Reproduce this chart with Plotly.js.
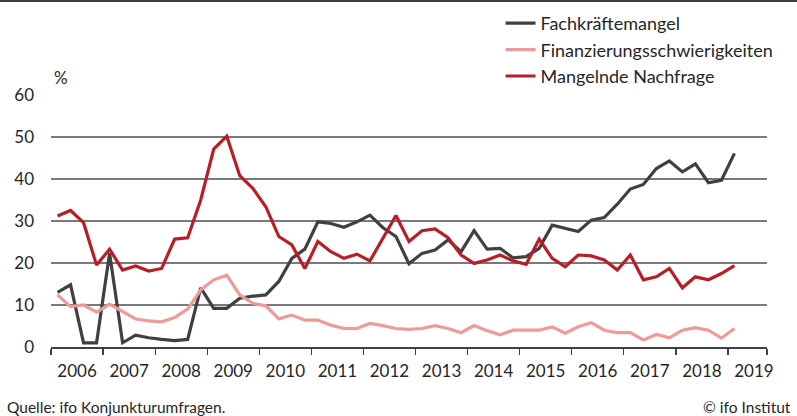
<!DOCTYPE html>
<html><head><meta charset="utf-8">
<script src="https://cdn.plot.ly/plotly-3.0.1.min.js"></script>
<style>html,body{margin:0;padding:0;background:#fff;}#chart{width:797px;height:416px;}</style>
</head><body><div id="chart"></div>
<script>
// Quarterly data, 2006 Q1 – 2019 Q1 (Anteil der Unternehmen in %)
const startYear = 2006;
const fachkraefte = [13.0,14.8,1.0,1.0,22.3,1.0,2.8,2.2,1.8,1.5,1.8,14.1,9.2,9.2,11.6,12.1,12.4,15.6,21.1,23.3,29.8,29.4,28.5,29.8,31.4,28.4,26.3,19.8,22.3,23.1,25.5,22.7,27.7,23.3,23.5,21.2,21.5,23.5,29.0,28.2,27.5,30.2,30.8,34.0,37.6,38.7,42.5,44.3,41.7,43.6,39.1,39.7,46.1];
const finanzierung = [12.4,9.6,10.0,8.3,10.2,8.4,6.7,6.2,6.0,7.0,9.0,13.6,16.0,17.1,12.4,10.4,9.8,6.7,7.6,6.4,6.4,5.2,4.4,4.4,5.6,5.1,4.4,4.2,4.4,5.1,4.4,3.4,5.1,3.9,2.9,4.0,4.0,4.0,4.8,3.3,4.8,5.8,4.0,3.4,3.4,1.7,3.0,2.2,4.0,4.6,4.0,2.1,4.4];
const nachfrage = [31.2,32.5,29.6,19.5,23.3,18.3,19.3,18.1,18.7,25.7,26.0,35.0,47.1,50.2,40.8,37.8,33.4,26.3,24.3,18.7,25.1,22.7,21.1,22.1,20.5,25.9,31.3,25.1,27.7,28.1,26.0,21.9,19.9,20.7,21.9,20.5,19.7,25.7,21.1,19.1,21.9,21.7,20.7,18.3,21.9,16.0,16.7,18.7,14.1,16.7,16.0,17.5,19.4];
const seriesNames = ["Fachkräftemangel","Finanzierungsschwierigkeiten","Mangelnde Nachfrage"];
const yearLabels = ["2006","2007","2008","2009","2010","2011","2012","2013","2014","2015","2016","2017","2018","2019"];
const yTicks = [0,10,20,30,40,50,60];

const xq = fachkraefte.map((_, i) => startYear + i * 0.25 + 0.125);
const FONT = "Lato, 'Open Sans', sans-serif";
const mk = (y, name, color) => ({x: xq, y: y, name: name, type: "scatter", mode: "lines",
  line: {color: color, width: 3.2, shape: "linear"}, hoverinfo: "skip"});

const data = [
  mk(fachkraefte, seriesNames[0], "#404040"),
  mk(finanzierung, seriesNames[1], "#f09a98"),
  mk(nachfrage, seriesNames[2], "#b71f27")
];
const yearCenters = yearLabels.map(l => +l + 0.5);
const yearBounds = yearLabels.map(l => +l).concat([2019.75]);

const layout = {
  width: 797, height: 416,
  margin: {l: 51, r: 30, t: 95, b: 69, autoexpand: false},
  paper_bgcolor: "#fff", plot_bgcolor: "#fff",
  font: {family: FONT, size: 17, color: "#262626"},
  showlegend: true,
  legend: {xref: "container", yref: "container", x: 0.628, xanchor: "left", y: 0.988, yanchor: "top", bgcolor: "rgba(0,0,0,0)",
    font: {family: FONT, size: 18, color: "#262626"}, tracegroupgap: 0, itemwidth: 30},
  xaxis: {range: [2006, 2019.75], tickmode: "array", tickvals: yearCenters, ticktext: yearLabels,
    ticks: "", showgrid: false, zeroline: false, showline: true, linecolor: "#404040", linewidth: 1.5,
    ticklabelstandoff: 8,
    minor: {tickmode: "array", tickvals: yearBounds, ticks: "outside", ticklen: 6, tickwidth: 1.3, tickcolor: "#404040", showgrid: false},
    tickfont: {family: FONT, size: 17, color: "#262626"}},
  yaxis: {range: [0, 60], tickmode: "array", tickvals: yTicks, ticks: "", showgrid: true,
    gridcolor: "#7a7a7a", gridwidth: 1.4, zeroline: false, showline: false, ticklabelstandoff: 16,
    tickfont: {family: FONT, size: 17, color: "#262626"}},
  shapes: [{type: "line", xref: "paper", yref: "paper", x0: -0.072, x1: 1.045, y0: 1.373, y1: 1.373,
    line: {color: "#404040", width: 2}}],
  annotations: [
    {text: "%", xref: "paper", yref: "paper", x: 0.002, y: 1.018, xanchor: "left", yanchor: "bottom", showarrow: false,
     font: {family: FONT, size: 17, color: "#262626"}},
    {text: "Quelle: ifo Konjunkturumfragen.", xref: "paper", yref: "paper", x: -0.064, y: -0.195, xanchor: "left", yanchor: "top", showarrow: false,
     font: {family: FONT, size: 15.5, color: "#262626"}},
    {text: "© ifo Institut", xref: "paper", yref: "paper", x: 1.036, y: -0.195, xanchor: "right", yanchor: "top", showarrow: false,
     font: {family: FONT, size: 15.5, color: "#262626"}}
  ]
};
Plotly.newPlot("chart", data, layout, {displayModeBar: false, staticPlot: true});
</script></body></html>
